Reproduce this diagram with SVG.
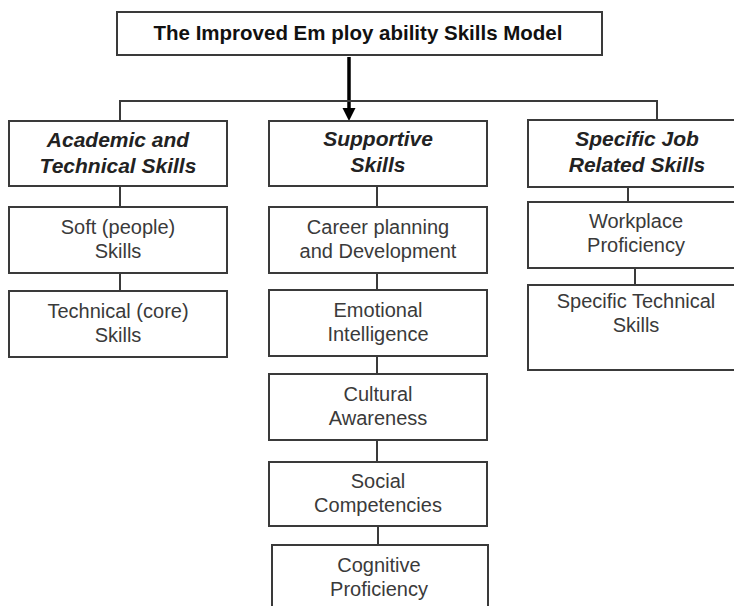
<svg xmlns="http://www.w3.org/2000/svg" width="734" height="606" viewBox="0 0 734 606">
  <style>
    .box { fill: #ffffff; stroke: #3a3a3a; stroke-width: 2; }
    .conn { fill: none; stroke: #3a3a3a; stroke-width: 2; }
    .title { font-family: "Liberation Sans", Arial, sans-serif; font-weight: bold; font-size: 20.5px; fill: #111; text-anchor: middle; }
    .head { font-family: "Liberation Sans", Arial, sans-serif; font-weight: bold; font-style: italic; font-size: 21px; fill: #222; text-anchor: middle; }
    .body { font-family: "Liberation Sans", Arial, sans-serif; font-size: 20px; fill: #3a3a3a; text-anchor: middle; }
  </style>
  <rect width="734" height="606" fill="#ffffff"/>

  <g id="connectors">
    <line x1="349" y1="57" x2="349" y2="108" stroke="#000" stroke-width="3.5"/>
    <path d="M342.5,108 L355.5,108 L349,121 Z" fill="#000"/>
    <path class="conn" d="M120,121 V101 H657 V120"/>
    <line class="conn" x1="120" y1="186" x2="120" y2="207"/>
    <line class="conn" x1="120" y1="273" x2="120" y2="291"/>
    <line class="conn" x1="377" y1="186" x2="377" y2="207"/>
    <line class="conn" x1="377" y1="273" x2="377" y2="290"/>
    <line class="conn" x1="377" y1="356" x2="377" y2="374"/>
    <line class="conn" x1="377" y1="440" x2="377" y2="462"/>
    <line class="conn" x1="378" y1="526" x2="378" y2="545"/>
    <line class="conn" x1="628" y1="187" x2="628" y2="202"/>
    <line class="conn" x1="635" y1="268" x2="635" y2="285"/>
  </g>

  <g id="title">
    <rect class="box" x="117" y="12" width="485" height="43"/>
    <text class="title" x="358" y="40">The Improved Em ploy ability Skills Model</text>
  </g>

  <g id="academic">
    <rect class="box" x="9" y="121" width="218" height="65"/>
    <text class="head" x="118" y="147">Academic and</text>
    <text class="head" x="118" y="173">Technical Skills</text>
  </g>
  <g id="soft">
    <rect class="box" x="9" y="207" width="218" height="66"/>
    <text class="body" x="118" y="234">Soft (people)</text>
    <text class="body" x="118" y="258">Skills</text>
  </g>
  <g id="technical-core">
    <rect class="box" x="9" y="291" width="218" height="66"/>
    <text class="body" x="118" y="318">Technical (core)</text>
    <text class="body" x="118" y="342">Skills</text>
  </g>

  <g id="supportive">
    <rect class="box" x="269" y="121" width="218" height="65"/>
    <text class="head" x="378" y="146">Supportive</text>
    <text class="head" x="378" y="172">Skills</text>
  </g>
  <g id="career">
    <rect class="box" x="269" y="207" width="218" height="66"/>
    <text class="body" x="378" y="234">Career planning</text>
    <text class="body" x="378" y="258">and Development</text>
  </g>
  <g id="emotional">
    <rect class="box" x="269" y="290" width="218" height="66"/>
    <text class="body" x="378" y="317">Emotional</text>
    <text class="body" x="378" y="341">Intelligence</text>
  </g>
  <g id="cultural">
    <rect class="box" x="269" y="374" width="218" height="66"/>
    <text class="body" x="378" y="401">Cultural</text>
    <text class="body" x="378" y="425">Awareness</text>
  </g>
  <g id="social">
    <rect class="box" x="269" y="462" width="218" height="64"/>
    <text class="body" x="378" y="488">Social</text>
    <text class="body" x="378" y="512">Competencies</text>
  </g>
  <g id="cognitive">
    <rect class="box" x="272" y="545" width="216" height="70"/>
    <text class="body" x="379" y="572">Cognitive</text>
    <text class="body" x="379" y="596">Proficiency</text>
  </g>

  <g id="specific-job">
    <rect class="box" x="528" y="120" width="220" height="67"/>
    <text class="head" x="637" y="146">Specific Job</text>
    <text class="head" x="637" y="172">Related Skills</text>
  </g>
  <g id="workplace">
    <rect class="box" x="528" y="202" width="220" height="66"/>
    <text class="body" x="636" y="228">Workplace</text>
    <text class="body" x="636" y="252">Proficiency</text>
  </g>
  <g id="specific-technical">
    <rect class="box" x="528" y="285" width="220" height="85"/>
    <text class="body" x="636" y="308">Specific Technical</text>
    <text class="body" x="636" y="332">Skills</text>
  </g>
</svg>
